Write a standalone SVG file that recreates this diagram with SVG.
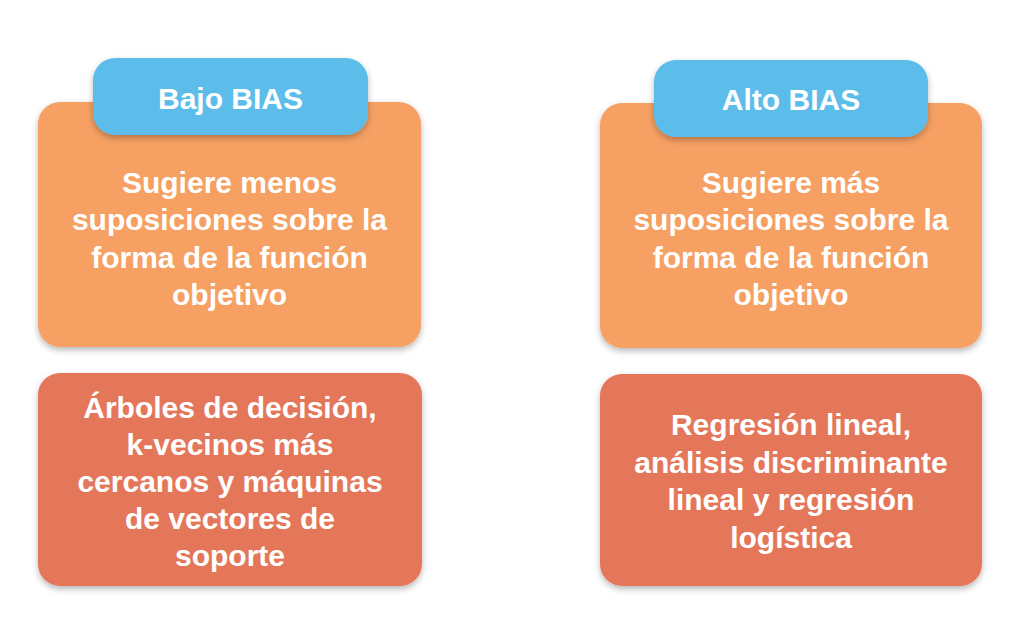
<svg xmlns="http://www.w3.org/2000/svg" width="1023" height="642" viewBox="0 0 1023 642">
<defs>
<filter id="sh" x="-10%" y="-10%" width="120%" height="130%">
<feDropShadow dx="0" dy="3" stdDeviation="3" flood-color="#000" flood-opacity="0.28"/>
</filter>
<style>
.orange{fill:#F6A064;filter:url(#sh)}
.red{fill:#E4775A;filter:url(#sh)}
.blue{fill:#5CBDEA;filter:url(#sh)}
text{font-family:"Liberation Sans",Arial,sans-serif;font-weight:bold;fill:#fff;text-anchor:middle}
.t{font-size:30px}
.h{font-size:30px}
</style>
</defs>
<rect width="1023" height="642" fill="#fff"/>
<g id="left-desc">
<rect class="orange" x="38" y="102" width="383" height="245" rx="22"/>
<text class="t" x="229.5" y="193">Sugiere menos</text>
<text class="t" x="229.5" y="230">suposiciones sobre la</text>
<text class="t" x="229.5" y="268">forma de la función</text>
<text class="t" x="229.5" y="305">objetivo</text>
</g>
<g id="left-title">
<rect class="blue" x="93" y="58" width="275" height="77" rx="22"/>
<text class="h" x="230.5" y="109">Bajo BIAS</text>
</g>
<g id="left-examples">
<rect class="red" x="38" y="373" width="384" height="213" rx="22"/>
<text class="t" x="230" y="418">Árboles de decisión,</text>
<text class="t" x="230" y="455">k-vecinos más</text>
<text class="t" x="230" y="492">cercanos y máquinas</text>
<text class="t" x="230" y="529">de vectores de</text>
<text class="t" x="230" y="566">soporte</text>
</g>
<g id="right-desc">
<rect class="orange" x="600" y="103" width="382" height="245" rx="22"/>
<text class="t" x="791" y="193">Sugiere más</text>
<text class="t" x="791" y="230">suposiciones sobre la</text>
<text class="t" x="791" y="268">forma de la función</text>
<text class="t" x="791" y="305">objetivo</text>
</g>
<g id="right-title">
<rect class="blue" x="654" y="60" width="274" height="77" rx="22"/>
<text class="h" x="791" y="110">Alto BIAS</text>
</g>
<g id="right-examples">
<rect class="red" x="600" y="374" width="382" height="212" rx="22"/>
<text class="t" x="791" y="435">Regresión lineal,</text>
<text class="t" x="791" y="473">análisis discriminante</text>
<text class="t" x="791" y="510">lineal y regresión</text>
<text class="t" x="791" y="548">logística</text>
</g>
<g id="connectors"></g>
</svg>
